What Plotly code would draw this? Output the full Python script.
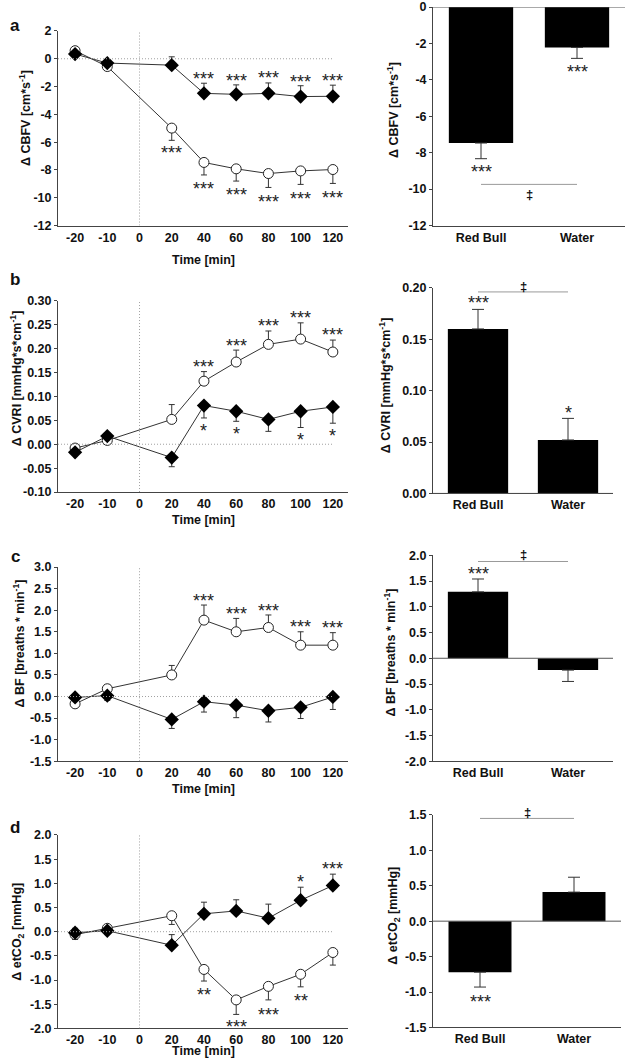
import plotly.graph_objects as go

W, H = 625, 1063
FONT = "Liberation Sans"
# the captured page comes out slightly squeezed vertically; these undo it
SY, OY = 0.9824, 6.56

tick_labels = ["-20", "-10", "0", "20", "40", "60", "80", "100", "120"]
times = ["-20", "-10", "20", "40", "60", "80", "100", "120"]
groups = ["Red Bull", "Water"]

# a: CBFV
cbfv_rb = [0.58, -0.56, -4.99, -7.46, -7.92, -8.26, -8.07, -7.97]
cbfv_rb_sd = [0, 0, 0.88, 0.9, 0.88, 1.0, 0.97, 1.0]
cbfv_w = [0.34, -0.31, -0.46, -2.49, -2.56, -2.49, -2.72, -2.7]
cbfv_w_sd = [0, 0, 0.6, 0.73, 0.68, 0.75, 0.78, 0.8]
cbfv_bar = [-7.47, -2.22]
cbfv_bar_sd = [0.86, 0.6]
cbfv_stars = [("40", -1.2, "***"), ("60", -1.3, "***"), ("80", -1.07, "***"), ("100", -1.4, "***"),
              ("120", -1.3, "***"), ("20", -6.5, "***"), ("40", -9.1, "***"), ("60", -9.5, "***"),
              ("80", -10.0, "***"), ("100", -9.8, "***"), ("120", -9.76, "***")]
cbfv_bar_stars = [(-8.85, -3.35), ("***", "***")]

# b: CVRI
cvri_rb = [-0.008, 0.008, 0.052, 0.132, 0.172, 0.209, 0.22, 0.193]
cvri_rb_sd = [0, 0, 0.031, 0.02, 0.025, 0.028, 0.034, 0.025]
cvri_w = [-0.017, 0.017, -0.028, 0.081, 0.069, 0.052, 0.069, 0.078]
cvri_w_sd = [0, 0, 0.019, 0.026, 0.021, 0.025, 0.034, 0.034]
cvri_bar = [0.160, 0.052]
cvri_bar_sd = [0.019, 0.021]
cvri_stars = [("40", 0.17, "***"), ("60", 0.214, "***"), ("80", 0.256, "***"), ("100", 0.272, "***"),
              ("120", 0.237, "***"), ("40", 0.036, "*"), ("60", 0.029, "*"), ("100", 0.017, "*"),
              ("120", 0.025, "*")]
cvri_bar_stars = [(0.189, 0.082), ("***", "*")]

# c: BF
bf_rb = [-0.17, 0.18, 0.5, 1.77, 1.5, 1.6, 1.19, 1.19]
bf_rb_sd = [0, 0.09, 0.22, 0.35, 0.31, 0.29, 0.31, 0.29]
bf_w = [-0.02, 0.02, -0.53, -0.12, -0.2, -0.33, -0.25, -0.01]
bf_w_sd = [0, 0.11, 0.21, 0.24, 0.29, 0.26, 0.26, 0.29]
bf_bar = [1.29, -0.23]
bf_bar_sd = [0.25, 0.22]
bf_stars = [("40", 2.31, "***"), ("60", 2.0, "***"), ("80", 2.08, "***"), ("100", 1.71, "***"),
            ("120", 1.69, "***")]
bf_bar_stars = [(1.72, None), ("***", "")]

# d: etCO2
co2_rb = [-0.06, 0.07, 0.33, -0.78, -1.41, -1.13, -0.88, -0.43]
co2_rb_sd = [0.1, 0, 0.18, 0.24, 0.3, 0.28, 0.26, 0.26]
co2_w = [-0.02, 0.02, -0.28, 0.37, 0.43, 0.28, 0.65, 0.955]
co2_w_sd = [0.09, 0, 0.22, 0.24, 0.23, 0.29, 0.27, 0.235]
co2_bar = [-0.72, 0.41]
co2_bar_sd = [0.21, 0.21]
co2_stars = [("100", 1.12, "*"), ("120", 1.38, "***"), ("40", -1.23, "**"), ("60", -1.89, "***"),
             ("80", -1.63, "***"), ("100", -1.35, "**")]
co2_bar_stars = [(-1.08, None), ("***", "")]


def px_x(p):
    return p / W


def px_y(r):
    p = r / SY - OY
    return min(1.0, 1 - p / H)


xi = {t: tick_labels.index(t) for t in tick_labels}
xpos = [xi[t] for t in times]

panels = [
    dict(letter="a", title="Δ CBFV [cm*s<sup>-1</sup>]",
         rb=cbfv_rb, rb_sd=cbfv_rb_sd, rb_up=False, w=cbfv_w, w_sd=cbfv_w_sd, w_up=True,
         stars=cbfv_stars, yr=[-12, 2], dt=2, fmt="{:.0f}", ldom=(30.3, 224),
         bar=cbfv_bar, bar_sd=cbfv_bar_sd, bar_up=[False, False], bar_stars=cbfv_bar_stars,
         byr=[-12, 0], bdt=2, rdom=(5.7, 224), rx=625, sig=(-9.74, -10), letter_y=25, time_y=258,
         tl=(25, 117), tr=(393, 109)),
    dict(letter="b", title="Δ CVRI [mmHg*s*cm<sup>-1</sup>]",
         rb=cvri_rb, rb_sd=cvri_rb_sd, rb_up=True, w=cvri_w, w_sd=cvri_w_sd, w_up=False,
         stars=cvri_stars, yr=[-0.10, 0.30], dt=0.05, fmt="{:.2f}", ldom=(299, 489.3),
         bar=cvri_bar, bar_sd=cvri_bar_sd, bar_up=[True, True], bar_stars=cvri_bar_stars,
         byr=[0, 0.20], bdt=0.05, rdom=(286, 490.7), rx=613, sig=(0.196, 5), letter_y=278, time_y=517,
         tl=(16, 376), tr=(385, 383)),
    dict(letter="c", title="Δ BF [breaths * min<sup>-1</sup>]",
         rb=bf_rb, rb_sd=bf_rb_sd, rb_up=True, w=bf_w, w_sd=bf_w_sd, w_up=False,
         stars=bf_stars, yr=[-1.5, 3.0], dt=0.5, fmt="{:.1f}", ldom=(564, 757.3),
         bar=bf_bar, bar_sd=bf_bar_sd, bar_up=[True, False], bar_stars=bf_bar_stars,
         byr=[-2.0, 2.0], bdt=0.5, rdom=(552.3, 757.3), rx=613, sig=(1.88, 7), letter_y=553, time_y=785,
         tl=(19, 640), tr=(390, 649)),
    dict(letter="d", title="Δ etCO<sub>2</sub> [mmHg]",
         rb=co2_rb, rb_sd=co2_rb_sd, rb_up=False, w=co2_w, w_sd=co2_w_sd, w_up=True,
         stars=co2_stars, yr=[-2.0, 2.0], dt=0.5, fmt="{:.1f}", ldom=(830.7, 1023.3),
         bar=co2_bar, bar_sd=co2_bar_sd, bar_up=[False, True], bar_stars=co2_bar_stars,
         byr=[-1.5, 1.5], bdt=0.5, rdom=(810.7, 1022.3), rx=621, sig=(1.45, 6), letter_y=823, time_y=1046,
         tl=(18, 927), tr=(394, 911)),
]


def ticks(lo, hi, step, fmt):
    n = int(round((hi - lo) / step))
    vals = [round(lo + k * step, 4) for k in range(n + 1)]
    txt = [fmt.format(v) for v in vals]
    txt = ["0" if fmt == "{:.0f}" and v == 0 else t for v, t in zip(vals, txt)]
    return vals, txt


def err(sd, up):
    zeros = [0] * len(sd)
    return dict(type="data", symmetric=False, array=sd if up else zeros,
                arrayminus=zeros if up else sd, color="#333", thickness=1, width=3)


fig = go.Figure()
tfont = dict(family=FONT, size=12.5, color="#111", weight="bold")
star_font = dict(family=FONT, size=18, color="#222")
axis_common = dict(showline=True, linecolor="#444", linewidth=1, showgrid=False, zeroline=False)
dotted = dict(color="#a0a0a0", width=1, dash="1px,2px")
annotations = []
shapes = []


def note(**kw):
    kw.setdefault("showarrow", False)
    kw.setdefault("xanchor", "center")
    kw.setdefault("yanchor", "middle")
    annotations.append(kw)


for i, p in enumerate(panels):
    lx, ly = f"x{2 * i + 1}", f"y{2 * i + 1}"
    rx, ry = f"x{2 * i + 2}", f"y{2 * i + 2}"
    lxk, lyk = f"xaxis{2 * i + 1}", f"yaxis{2 * i + 1}"
    rxk, ryk = f"xaxis{2 * i + 2}", f"yaxis{2 * i + 2}"

    # time course
    fig.add_trace(go.Scatter(x=xpos, y=p["rb"], mode="lines+markers", xaxis=lx, yaxis=ly,
                             line=dict(color="#333", width=1), error_y=err(p["rb_sd"], p["rb_up"]),
                             marker=dict(symbol="circle", size=10, color="white",
                                         line=dict(color="#222", width=1)), showlegend=False))
    fig.add_trace(go.Scatter(x=xpos, y=p["w"], mode="lines+markers", xaxis=lx, yaxis=ly,
                             line=dict(color="#333", width=1), error_y=err(p["w_sd"], p["w_up"]),
                             marker=dict(symbol="diamond", size=11, color="black"), showlegend=False))

    # bars
    fig.add_trace(go.Bar(x=groups, y=p["bar"], xaxis=rx, yaxis=ry, width=0.67,
                         marker=dict(color="black", line=dict(width=0)),
                         error_y=dict(type="data", symmetric=False,
                                      array=[s if u else 0 for s, u in zip(p["bar_sd"], p["bar_up"])],
                                      arrayminus=[0 if u else s for s, u in zip(p["bar_sd"], p["bar_up"])],
                                      color="#333", thickness=1, width=6),
                         showlegend=False))

    lvals, ltxt = ticks(p["yr"][0], p["yr"][1], p["dt"], p["fmt"])
    rvals, rtxt = ticks(p["byr"][0], p["byr"][1], p["bdt"], p["fmt"])

    fig.update_layout(**{
        lxk: dict(domain=[px_x(58), px_x(348)], anchor=ly, range=[-0.53, 8.47],
                  tickvals=list(range(len(tick_labels))), ticktext=tick_labels,
                  ticks="", tickfont=tfont, **axis_common),
        lyk: dict(domain=[px_y(p["ldom"][1]), px_y(p["ldom"][0])], anchor=lx, range=p["yr"],
                  tickvals=lvals, ticktext=ltxt, ticks="outside", ticklen=3, tickcolor="#444",
                  tickfont=tfont, **axis_common),
        rxk: dict(domain=[px_x(433), px_x(p["rx"])], anchor=ry, range=[-0.5, 1.5],
                  ticks="", tickfont=tfont, **axis_common),
        ryk: dict(domain=[px_y(p["rdom"][1]), px_y(p["rdom"][0])], anchor=rx, range=p["byr"],
                  tickvals=rvals, ticktext=rtxt, ticks="outside", ticklen=3, tickcolor="#444",
                  tickfont=tfont, **axis_common),
    })

    # reference lines
    shapes.append(dict(type="line", xref=lx, yref=ly, x0=-0.53, x1=8, y0=0, y1=0, line=dotted))
    shapes.append(dict(type="line", xref=lx, yref=ly, x0=xi["0"], x1=xi["0"],
                       y0=p["yr"][0], y1=p["yr"][1], line=dotted))
    shapes.append(dict(type="line", xref=f"{rx} domain", yref=ry, x0=0, x1=1, y0=0, y1=0,
                       line=dict(color="#555", width=1)))
    shapes.append(dict(type="line", xref=rx, yref=ry, x0=0, x1=1, y0=p["sig"][0], y1=p["sig"][0],
                       line=dict(color="#999", width=1)))
    note(xref=rx, yref=ry, x=0.5, y=p["sig"][0], yshift=p["sig"][1], text="‡",
         font=dict(family=FONT, size=13, color="#111", weight="bold"))

    # significance stars
    for t, yv, s in p["stars"]:
        note(xref=lx, yref=ly, x=xi[t], y=yv, text=s, yshift=-4, font=star_font)
    for g, yv, s in zip(groups, p["bar_stars"][0], p["bar_stars"][1]):
        if yv is not None:
            note(xref=rx, yref=ry, x=g, y=yv, text=s, yshift=-4, font=star_font)

    # titles and letters
    note(xref="paper", yref="paper", x=px_x(p["tl"][0]), y=px_y(p["tl"][1]),
         text=p["title"], textangle=-90, font=tfont)
    note(xref="paper", yref="paper", x=px_x(p["tr"][0]), y=px_y(p["tr"][1]),
         text=p["title"], textangle=-90, font=tfont)
    note(xref="paper", yref="paper", x=px_x(203), y=px_y(p["time_y"]), text="Time [min]", font=tfont)
    note(xref="paper", yref="paper", x=px_x(15), y=px_y(p["letter_y"]), text=p["letter"],
         font=dict(family=FONT, size=17, color="#111", weight="bold"))

fig.update_layout(width=W, height=H, margin=dict(l=0, r=0, t=0, b=0),
                  paper_bgcolor="white", plot_bgcolor="white",
                  annotations=annotations, shapes=shapes, bargap=0.33)
fig.write_html("out.html", config={"displayModeBar": False},
               post_script="document.body.style.margin = '0';")
